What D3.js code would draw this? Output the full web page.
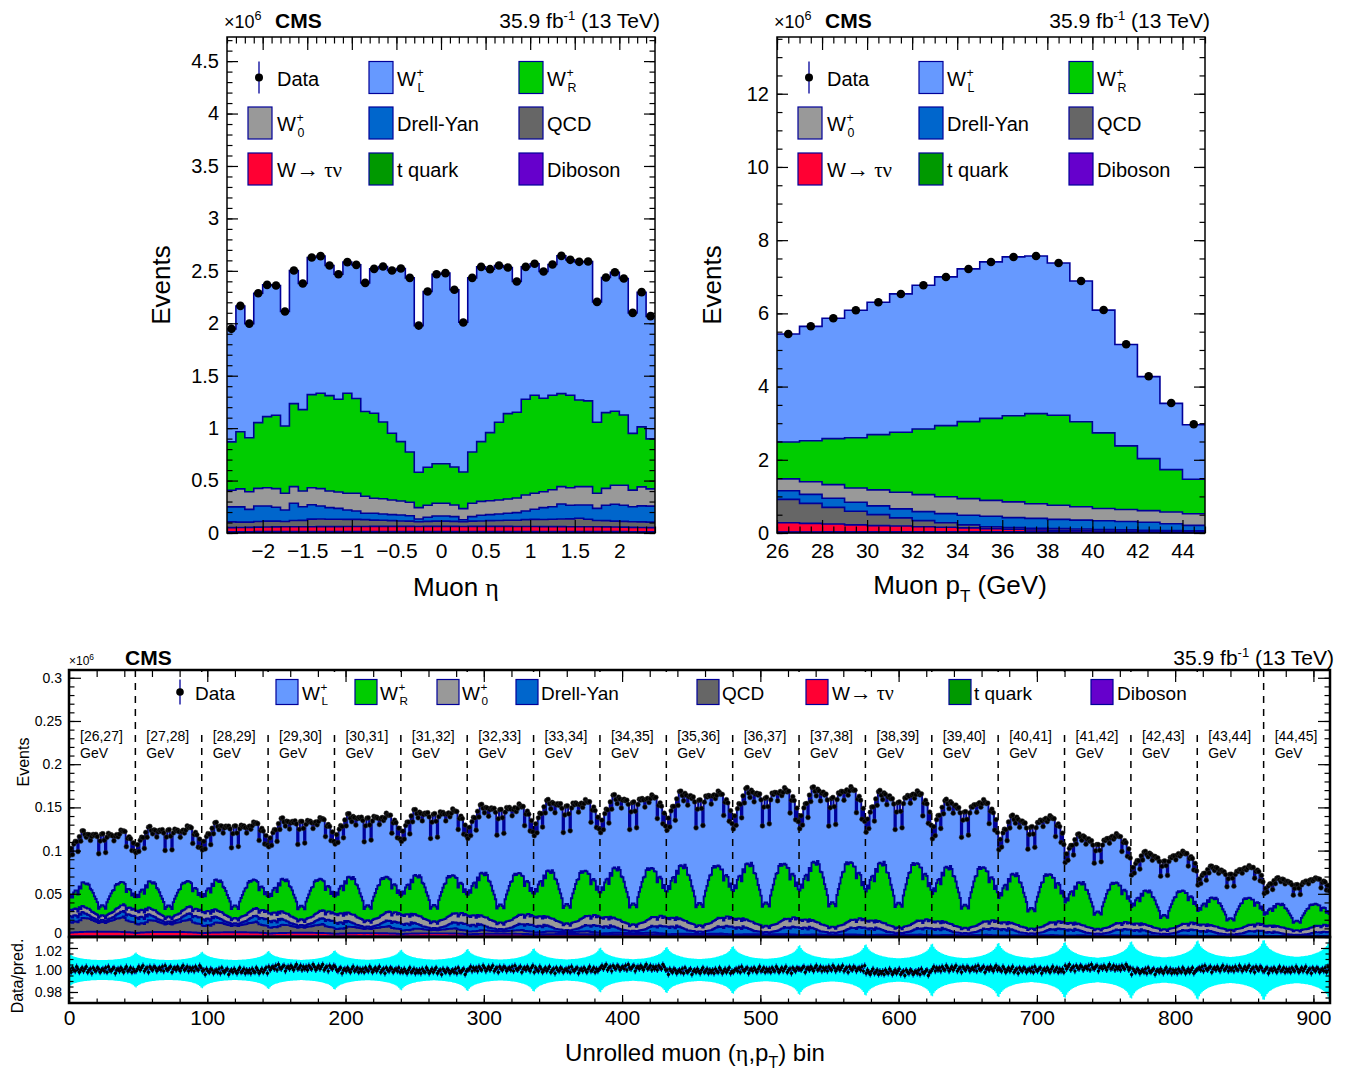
<!DOCTYPE html>
<html><head><meta charset="utf-8">
<script src="https://cdn.jsdelivr.net/npm/d3@7"></script>
<style>
body{margin:0;background:#fff;}
svg{display:block;}
text{font-family:"Liberation Sans",Arial,Helvetica,sans-serif;fill:#000;}
</style>
</head><body>
<svg id="c" width="1357" height="1074"></svg>
<script>
// ---------------- DATA (units of 10^6 events) ----------------
const etaRange = [-2.4, 2.4];
const etaNBins = 48;
const ptEdges = [26,27,28,29,30,31,32,33,34,35,36,37,38,39,40,41,42,43,44,45];
const xTicksEta = [-2,-1.5,-1,-0.5,0,0.5,1,1.5,2];
const yTicksEta = [0,0.5,1,1.5,2,2.5,3,3.5,4,4.5];
const xTicksPt = [26,28,30,32,34,36,38,40,42,44];
const yTicksPt = [0,2,4,6,8,10,12];
const xTicksUnrolled = [0,100,200,300,400,500,600,700,800,900];
const yTicksUnrolled = [0,0.05,0.1,0.15,0.2,0.25,0.3];
const yTicksRatio = [0.98,1.00,1.02];
const ptBinLabels = ["[26,27]","[27,28]","[28,29]","[29,30]","[30,31]","[31,32]","[32,33]","[33,34]","[34,35]","[35,36]","[36,37]","[37,38]","[38,39]","[39,40]","[40,41]","[41,42]","[42,43]","[43,44]","[44,45]"];

// Muon eta distributions (48 bins, -2.4 .. 2.4)
const etaData = [1.947,2.166,1.997,2.287,2.366,2.360,2.112,2.503,2.379,2.627,2.640,2.551,2.468,2.583,2.557,2.385,2.519,2.541,2.503,2.522,2.433,1.978,2.303,2.468,2.478,2.319,2.007,2.433,2.538,2.516,2.551,2.532,2.398,2.538,2.567,2.494,2.560,2.643,2.605,2.586,2.589,2.204,2.436,2.487,2.427,2.099,2.297,2.068];
const etaWL = [1.076,1.199,1.087,1.234,1.256,1.237,1.091,1.269,1.202,1.307,1.307,1.241,1.192,1.250,1.275,1.227,1.377,1.482,1.552,1.651,1.660,1.399,1.676,1.807,1.817,1.689,1.428,1.660,1.667,1.559,1.495,1.394,1.246,1.262,1.253,1.209,1.246,1.314,1.291,1.317,1.329,1.148,1.288,1.326,1.301,1.148,1.283,1.168];
const etaWR = [0.461,0.544,0.516,0.627,0.678,0.700,0.642,0.792,0.776,0.888,0.910,0.909,0.885,0.954,0.903,0.808,0.811,0.732,0.636,0.566,0.480,0.337,0.363,0.378,0.378,0.363,0.350,0.490,0.569,0.649,0.741,0.814,0.818,0.913,0.935,0.891,0.901,0.887,0.882,0.827,0.818,0.677,0.722,0.706,0.671,0.541,0.572,0.477];
const etaW0 = [0.159,0.172,0.168,0.168,0.174,0.178,0.160,0.159,0.150,0.162,0.165,0.159,0.156,0.160,0.169,0.162,0.143,0.146,0.140,0.133,0.128,0.108,0.114,0.121,0.121,0.111,0.105,0.127,0.133,0.133,0.134,0.136,0.140,0.153,0.153,0.152,0.162,0.165,0.168,0.175,0.175,0.144,0.162,0.181,0.191,0.159,0.181,0.165];
const etaDY = [0.143,0.145,0.121,0.148,0.145,0.132,0.110,0.164,0.131,0.138,0.125,0.111,0.104,0.089,0.080,0.060,0.065,0.060,0.057,0.057,0.052,0.027,0.039,0.049,0.049,0.045,0.020,0.043,0.054,0.057,0.062,0.067,0.072,0.082,0.096,0.113,0.120,0.144,0.129,0.127,0.136,0.116,0.146,0.161,0.153,0.142,0.153,0.152];
const etaQCD = [0.055,0.052,0.050,0.054,0.056,0.055,0.050,0.060,0.060,0.072,0.072,0.070,0.070,0.068,0.068,0.066,0.060,0.058,0.055,0.052,0.050,0.045,0.048,0.050,0.050,0.048,0.045,0.050,0.052,0.055,0.056,0.058,0.060,0.066,0.068,0.068,0.070,0.072,0.075,0.080,0.072,0.060,0.060,0.056,0.055,0.054,0.054,0.053];
const etaWtau = [0.040,0.041,0.042,0.043,0.044,0.045,0.046,0.046,0.047,0.047,0.048,0.048,0.048,0.049,0.049,0.049,0.050,0.050,0.050,0.050,0.050,0.049,0.050,0.050,0.050,0.050,0.049,0.050,0.050,0.050,0.050,0.050,0.049,0.049,0.049,0.048,0.048,0.048,0.047,0.047,0.046,0.046,0.045,0.044,0.043,0.042,0.041,0.040];
const etaTop = [0.005,0.005,0.005,0.006,0.006,0.006,0.006,0.006,0.006,0.006,0.006,0.006,0.006,0.006,0.006,0.006,0.006,0.006,0.006,0.006,0.006,0.006,0.006,0.006,0.006,0.006,0.006,0.006,0.006,0.006,0.006,0.006,0.006,0.006,0.006,0.006,0.006,0.006,0.006,0.006,0.006,0.006,0.006,0.006,0.006,0.005,0.005,0.005];
const etaDiboson = [0.006,0.006,0.007,0.007,0.007,0.007,0.007,0.007,0.007,0.007,0.007,0.007,0.007,0.007,0.007,0.007,0.007,0.007,0.007,0.007,0.007,0.007,0.007,0.007,0.007,0.007,0.007,0.007,0.007,0.007,0.007,0.007,0.007,0.007,0.007,0.007,0.007,0.007,0.007,0.007,0.007,0.007,0.007,0.007,0.007,0.007,0.006,0.006];

// Muon pT distributions (19 bins, 26 .. 45 GeV)
const ptData = [5.437,5.647,5.866,6.084,6.303,6.530,6.767,6.995,7.213,7.404,7.541,7.568,7.377,6.885,6.093,5.155,4.281,3.552,2.969];
const ptWL = [2.951,3.127,3.289,3.484,3.617,3.780,3.927,4.065,4.173,4.274,4.341,4.308,4.162,3.845,3.353,2.770,2.241,1.812,1.489];
const ptWR = [1.006,1.120,1.257,1.370,1.511,1.640,1.794,1.940,2.103,2.240,2.353,2.460,2.458,2.320,2.065,1.738,1.420,1.157,0.942];
const ptW0 = [0.324,0.343,0.372,0.392,0.437,0.454,0.463,0.462,0.454,0.434,0.428,0.400,0.384,0.365,0.338,0.328,0.320,0.319,0.319];
const ptDY = [0.236,0.247,0.248,0.245,0.238,0.246,0.246,0.248,0.264,0.286,0.273,0.273,0.253,0.245,0.237,0.226,0.215,0.187,0.149];
const ptQCD = [0.640,0.545,0.454,0.373,0.300,0.220,0.167,0.125,0.082,0.052,0.046,0.045,0.050,0.045,0.040,0.035,0.030,0.025,0.020];
const ptWtau = [0.250,0.235,0.216,0.190,0.170,0.160,0.140,0.125,0.107,0.088,0.070,0.052,0.040,0.035,0.030,0.028,0.025,0.022,0.020];
const ptTop = [0.012,0.013,0.014,0.014,0.015,0.015,0.015,0.015,0.015,0.015,0.015,0.014,0.014,0.013,0.012,0.011,0.010,0.009,0.008];
const ptDiboson = [0.016,0.016,0.017,0.017,0.017,0.017,0.017,0.017,0.017,0.017,0.017,0.016,0.016,0.015,0.014,0.013,0.012,0.011,0.010];

// Ratio panel: uncertainty band and data/pred deviations
const ratioUncCore = [0.0090,0.0090,0.0091,0.0092,0.0093,0.0094,0.0095,0.0096,0.0098,0.0100,0.0102,0.0104,0.0106,0.0108,0.0110,0.0112,0.0115,0.0118,0.0120];
const ratioUncPtScale = [0.6,0.7,0.75,0.8,0.85,0.9,0.95,1.0,1.05,1.1,1.15,1.2,1.25,1.3,1.35,1.4,1.45,1.5,1.5];
const ratioUncEta = [0.0100,0.0080,0.0066,0.0056,0.0048,0.0042,0.0037,0.0032,0.0028,0.0024,0.0021,0.0018,0.0015,0.0013,0.0011,0.0009,0.0007,0.0006,0.0005,0.0004,0.0003,0.0002,0.0001,0.0000,0.0000,0.0001,0.0002,0.0003,0.0004,0.0005,0.0006,0.0007,0.0009,0.0011,0.0013,0.0015,0.0018,0.0021,0.0024,0.0028,0.0032,0.0037,0.0042,0.0048,0.0056,0.0066,0.0080,0.0100];
const ratioDevEta = [0.001,-0.002,0.002,0.000,-0.001,0.003,0.001,-0.002,0.000,0.002,-0.001,0.001,0.003,-0.002,0.000,0.001,-0.003,0.002,0.000,-0.001,0.002,0.001,-0.002,0.000,0.001,-0.001,0.002,-0.002,0.003,0.000,-0.001,0.001,0.002,-0.003,0.000,0.001,-0.001,0.002,0.000,-0.002,0.001,0.003,-0.001,0.000,0.002,-0.002,0.001,-0.001];
const ratioDevPt = [0.000,0.001,-0.001,0.002,0.000,-0.001,0.001,0.000,0.002,-0.001,0.000,0.001,-0.002,0.001,0.000,0.002,-0.001,0.001,0.000];

// ---------------- STYLE ----------------
const NAVY = "#000099";
const colors = {diboson:"#6600CC", top:"#009900", wtau:"#FF0033", qcd:"#666666", dy:"#0066CC", w0:"#999999", wr:"#00CC00", wl:"#6699FF"};
const order = ["diboson","top","wtau","qcd","dy","w0","wr","wl"];

const svg = d3.select("#c");

function cumulate(comps){
  const n = comps.wl.length;
  let acc = new Array(n).fill(0);
  return order.map(k => { acc = acc.map((a,i)=>a+comps[k][i]); return {key:k, top:acc.slice()}; });
}
function stepPoints(edges, vals){
  const pts=[]; vals.forEach((v,i)=>{pts.push([edges[i],v]); pts.push([edges[i+1],v]);}); return pts;
}
function drawStack(g, x, y, edges, layers, lw){
  const area = d3.area().x(d=>x(d[0])).y0(y(0)).y1(d=>y(d[1]));
  const line = d3.line().x(d=>x(d[0])).y(d=>y(d[1]));
  for(let i=layers.length-1;i>=0;i--){
    g.append("path").attr("d", area(stepPoints(edges, layers[i].top))).attr("fill", colors[layers[i].key]);
  }
  layers.forEach(L=>{
    g.append("path").attr("d", line(stepPoints(edges, L.top))).attr("fill","none")
      .attr("stroke",NAVY).attr("stroke-width",lw).attr("stroke-linejoin","miter");
  });
}
function axisG(g, axis, tx, ty){
  const a = g.append("g").attr("transform",`translate(${tx},${ty})`).call(axis);
  a.select(".domain").remove();
  a.attr("font-family",null).attr("font-size",null);
  a.selectAll("line").attr("stroke","#000").attr("stroke-width",1.2);
  return a;
}
function frameTicks(g, x, y, o){
  const [x0,x1]=x.range(); const [yb,yt]=y.range();
  axisG(g, d3.axisBottom(x).tickValues(o.xMin).tickSize(-o.xMinLen).tickFormat(""), 0, yb);
  axisG(g, d3.axisTop(x).tickValues(o.xMin).tickSize(-o.xMinLen).tickFormat(""), 0, yt);
  axisG(g, d3.axisTop(x).tickValues(o.xMaj).tickSize(-o.xMajLen).tickFormat(""), 0, yt);
  const bx = axisG(g, d3.axisBottom(x).tickValues(o.xMaj).tickSize(-o.xMajLen).tickPadding(o.xPad).tickFormat(o.xLabels?o.xFmt:""), 0, yb);
  bx.selectAll("text").attr("font-size",o.fsX).attr("fill","#000");
  axisG(g, d3.axisLeft(y).tickValues(o.yMin).tickSize(-o.yMinLen).tickFormat(""), x0, 0);
  axisG(g, d3.axisRight(y).tickValues(o.yMin).tickSize(-o.yMinLen).tickFormat(""), x1, 0);
  axisG(g, d3.axisRight(y).tickValues(o.yMaj).tickSize(-o.yMajLen).tickFormat(""), x1, 0);
  const ly = axisG(g, d3.axisLeft(y).tickValues(o.yMaj).tickSize(-o.yMajLen).tickPadding(o.yPad).tickFormat(o.yFmt), x0, 0);
  ly.selectAll("text").attr("font-size",o.fsY).attr("fill","#000");
  return ly;
}
function wLabel(g, x, y, fs, sub){
  const t = g.append("text").attr("x",x).attr("y",y).attr("font-size",fs).text("W");
  const w = t.node().getComputedTextLength();
  g.append("text").attr("x",x+w+0.5).attr("y",y-0.45*fs).attr("font-size",fs*0.62).text("+");
  g.append("text").attr("x",x+w+1.5).attr("y",y+0.30*fs).attr("font-size",fs*0.62).text(sub);
}
function tauLabel(g, x, y, fs){
  const t = g.append("text").attr("x",x).attr("y",y).attr("font-size",fs);
  t.append("tspan").text("W");
  t.append("tspan").attr("font-size",fs*1.15).text("\u2192");
  t.append("tspan").attr("font-family","'Liberation Serif','Times New Roman',serif").attr("font-size",fs*1.05).text(" \u03C4\u03BD");
}
function legendEntry(g, key, bx, tx, cy, fs, bw, bh){
  if(key==="data"){
    g.append("line").attr("x1",bx).attr("x2",bx).attr("y1",cy-bh/2).attr("y2",cy+bh/2).attr("stroke",NAVY).attr("stroke-width",1.3);
    g.append("circle").attr("cx",bx).attr("cy",cy).attr("r",fs*0.2).attr("fill","#000");
    g.append("text").attr("x",tx).attr("y",cy+fs*0.4).attr("font-size",fs).text("Data");
    return;
  }
  g.append("rect").attr("x",bx).attr("y",cy-bh/2).attr("width",bw).attr("height",bh)
    .attr("fill",colors[key]).attr("stroke",NAVY).attr("stroke-width",1.2);
  const by = cy+fs*0.4;
  if(key==="wl") wLabel(g,tx,by,fs,"L");
  else if(key==="wr") wLabel(g,tx,by,fs,"R");
  else if(key==="w0") wLabel(g,tx,by,fs,"0");
  else if(key==="wtau") tauLabel(g,tx,by,fs);
  else {
    const names={dy:"Drell-Yan",qcd:"QCD",top:"t quark",diboson:"Diboson"};
    g.append("text").attr("x",tx).attr("y",by).attr("font-size",fs).text(names[key]);
  }
}
function header(g, xLeft, xCMS, xRight, yb, fsSmall, fsBig){
  const t = g.append("text").attr("x",xLeft).attr("y",yb).attr("font-size",fsSmall);
  t.append("tspan").text("\u00D710");
  t.append("tspan").attr("dy",-fsSmall*0.45).attr("font-size",fsSmall*0.7).text("6");
  g.append("text").attr("x",xCMS).attr("y",yb).attr("font-size",fsBig).attr("font-weight","bold").text("CMS");
  const l = g.append("text").attr("x",xRight).attr("y",yb).attr("font-size",fsBig).attr("text-anchor","end");
  l.append("tspan").text("35.9 fb");
  l.append("tspan").attr("dy",-fsBig*0.4).attr("font-size",fsBig*0.62).text("-1");
  l.append("tspan").attr("dy",fsBig*0.4).text(" (13 TeV)");
}
function vLabel(g, x, y, fs, txt){
  g.append("text").attr("transform",`translate(${x},${y}) rotate(-90)`).attr("text-anchor","middle").attr("font-size",fs).text(txt);
}

// ---------------- PANEL A: Muon eta ----------------
{
  const g = svg.append("g");
  const x = d3.scaleLinear().domain(etaRange).range([227,655]);
  const y = d3.scaleLinear().domain([0,4.73]).range([533,37]);
  const w = (etaRange[1]-etaRange[0])/etaNBins;
  const edges = d3.range(etaNBins+1).map(i=>etaRange[0]+i*w);
  const layers = cumulate({diboson:etaDiboson, top:etaTop, wtau:etaWtau, qcd:etaQCD, dy:etaDY, w0:etaW0, wr:etaWR, wl:etaWL});
  drawStack(g, x, y, edges, layers, 1.6);
  g.selectAll(null).data(etaData).join("circle")
    .attr("cx",(d,i)=>x((edges[i]+edges[i+1])/2)).attr("cy",d=>y(d)).attr("r",4.3).attr("fill","#000");
  const cols=[[259,248,277],[369,369,397],[519,519,547]];
  const rows=[77.5,123,169];
  const items=[["data","wl","wr"],["w0","dy","qcd"],["wtau","top","diboson"]];
  items.forEach((r,ri)=>r.forEach((k,ci)=>{
    legendEntry(g,k,k==="data"?cols[ci][0]:cols[ci][1],cols[ci][2],rows[ri],20,24,32);
  }));
  frameTicks(g, x, y, {xMaj:xTicksEta, xMin:x.ticks(48), yMaj:yTicksEta, yMin:y.ticks(47),
    xMajLen:13, xMinLen:6.5, yMajLen:11, yMinLen:5.5, xPad:10, yPad:8, fsX:21, fsY:20,
    xLabels:true, xFmt:d3.format(""), yFmt:d3.format("")});
  g.append("rect").attr("x",227).attr("y",37).attr("width",428).attr("height",496).attr("fill","none").attr("stroke","#000").attr("stroke-width",1.5);
  header(g, 224, 275, 660, 28, 18, 21);
  vLabel(g, 170, 285, 26, "Events");
  const xt = g.append("text").attr("x",456).attr("y",596).attr("text-anchor","middle").attr("font-size",26);
  xt.append("tspan").text("Muon ");
  xt.append("tspan").attr("font-family","'Liberation Serif','Times New Roman',serif").text("\u03B7");
}

// ---------------- PANEL B: Muon pT ----------------
{
  const g = svg.append("g");
  const x = d3.scaleLinear().domain([ptEdges[0], ptEdges[ptEdges.length-1]]).range([777,1205]);
  const y = d3.scaleLinear().domain([0,13.55]).range([533,37]);
  const layers = cumulate({diboson:ptDiboson, top:ptTop, wtau:ptWtau, qcd:ptQCD, dy:ptDY, w0:ptW0, wr:ptWR, wl:ptWL});
  drawStack(g, x, y, ptEdges, layers, 1.6);
  g.selectAll(null).data(ptData).join("circle")
    .attr("cx",(d,i)=>x((ptEdges[i]+ptEdges[i+1])/2)).attr("cy",d=>y(d)).attr("r",4.3).attr("fill","#000");
  const cols=[[809,798,827],[919,919,947],[1069,1069,1097]];
  const rows=[77.5,123,169];
  const items=[["data","wl","wr"],["w0","dy","qcd"],["wtau","top","diboson"]];
  items.forEach((r,ri)=>r.forEach((k,ci)=>{
    legendEntry(g,k,k==="data"?cols[ci][0]:cols[ci][1],cols[ci][2],rows[ri],20,24,32);
  }));
  frameTicks(g, x, y, {xMaj:xTicksPt, xMin:x.ticks(38), yMaj:yTicksPt, yMin:y.ticks(27),
    xMajLen:13, xMinLen:6.5, yMajLen:11, yMinLen:5.5, xPad:10, yPad:8, fsX:21, fsY:20,
    xLabels:true, xFmt:d3.format(""), yFmt:d3.format("")});
  g.append("rect").attr("x",777).attr("y",37).attr("width",428).attr("height",496).attr("fill","none").attr("stroke","#000").attr("stroke-width",1.5);
  header(g, 774, 825, 1210, 28, 18, 21);
  vLabel(g, 721, 285, 26, "Events");
  const xt = g.append("text").attr("x",960).attr("y",594).attr("text-anchor","middle").attr("font-size",26);
  xt.append("tspan").text("Muon p");
  xt.append("tspan").attr("dy",8).attr("font-size",17).text("T");
  xt.append("tspan").attr("dy",-8).text(" (GeV)");
}

// ---------------- PANEL C: unrolled ----------------
{
  const g = svg.append("g");
  const nEta = etaNBins, nPt = ptData.length, nBins = nEta*nPt;
  const x = d3.scaleLinear().domain([0,nBins]).range([69,1330]);
  const y = d3.scaleLinear().domain([0,0.309]).range([937,670]);
  const yr = d3.scaleLinear().domain([0.97,1.03]).range([1003,937]);
  const edges = d3.range(nBins+1);
  const etaSets = {diboson:etaDiboson, top:etaTop, wtau:etaWtau, qcd:etaQCD, dy:etaDY, w0:etaW0, wr:etaWR, wl:etaWL};
  const ptSets = {diboson:ptDiboson, top:ptTop, wtau:ptWtau, qcd:ptQCD, dy:ptDY, w0:ptW0, wr:ptWR, wl:ptWL};
  const comps = {};
  order.forEach(k=>{
    const s = d3.sum(etaSets[k]);
    const arr=[];
    for(let p=0;p<nPt;p++) for(let e=0;e<nEta;e++) arr.push(ptSets[k][p]*etaSets[k][e]/s);
    comps[k]=arr;
  });
  const layers = cumulate(comps);
  const pred = layers[layers.length-1].top;
  const ratio=[], unc=[];
  for(let p=0;p<nPt;p++) for(let e=0;e<nEta;e++){
    ratio.push(1 + ratioDevEta[(e+7*p)%nEta] + ratioDevPt[p]);
    unc.push(ratioUncCore[p] + ratioUncEta[e]*ratioUncPtScale[p]);
  }
  const defs = svg.append("defs");
  defs.append("clipPath").attr("id","cm").append("rect").attr("x",69).attr("y",670).attr("width",1261).attr("height",267);
  defs.append("clipPath").attr("id","cr").append("rect").attr("x",69).attr("y",937).attr("width",1261).attr("height",66);
  const gm = g.append("g").attr("clip-path","url(#cm)");
  drawStack(gm, x, y, edges, layers, 1.9);
  gm.selectAll(null).data(d3.range(1,nPt)).join("line")
    .attr("x1",d=>x(d*nEta)).attr("x2",d=>x(d*nEta)).attr("y1",670).attr("y2",937)
    .attr("stroke","#000").attr("stroke-width",1.5).attr("stroke-dasharray","7,6");
  gm.selectAll(null).data(pred).join("circle")
    .attr("cx",(d,i)=>x(i+0.5)).attr("cy",(d,i)=>y(d*ratio[i])).attr("r",2.4)
    .attr("fill","#000").attr("stroke","#333").attr("stroke-width",0.5);
  g.append("rect").attr("x",150).attr("y",672).attr("width",1095).attr("height",60).attr("fill","#fff");
  const leg=[["data",180,195],["wl",276,302],["wr",355,380],["w0",437,462],["dy",516,541],["qcd",697,722],["wtau",806,832],["top",949,974],["diboson",1091,1117]];
  leg.forEach(([k,bx,tx])=>legendEntry(g,k,bx,tx,692,19,22,25));
  ptBinLabels.forEach((lab,p)=>{
    g.append("text").attr("x",x(p*nEta)+11).attr("y",741).attr("font-size",14).attr("fill","#222").text(lab);
    g.append("text").attr("x",x(p*nEta)+11).attr("y",758).attr("font-size",14).attr("fill","#222").text("GeV");
  });
  const gr = g.append("g").attr("clip-path","url(#cr)");
  const bandArea = d3.area().x(d=>x(d[0])).y0(d=>yr(1-d[1])).y1(d=>yr(1+d[1]));
  gr.append("path").attr("d", bandArea(stepPoints(edges, unc))).attr("fill","#00FFFF");
  gr.selectAll(null).data(ratio).join("line")
    .attr("x1",(d,i)=>x(i+0.5)).attr("x2",(d,i)=>x(i+0.5))
    .attr("y1",d=>yr(d-0.0028)).attr("y2",d=>yr(d+0.0028)).attr("stroke",NAVY).attr("stroke-width",1.1);
  gr.selectAll(null).data(ratio).join("circle")
    .attr("cx",(d,i)=>x(i+0.5)).attr("cy",d=>yr(d)).attr("r",1.7).attr("fill","#000");
  const lyMain = frameTicks(g, x, y, {xMaj:xTicksUnrolled, xMin:x.ticks(45), yMaj:yTicksUnrolled, yMin:y.ticks(30),
    xMajLen:12, xMinLen:7, yMajLen:12, yMinLen:5.5, xPad:8, yPad:7, fsX:20, fsY:14,
    xLabels:false, xFmt:d3.format(""), yFmt:d3.format("")});
  lyMain.selectAll("text").filter(d=>d===0).attr("dy","0.05em");
  const lyR = frameTicks(g, x, yr, {xMaj:xTicksUnrolled, xMin:x.ticks(45), yMaj:yTicksRatio, yMin:d3.range(0.975,1.03,0.005),
    xMajLen:8, xMinLen:4.5, yMajLen:9, yMinLen:4.5, xPad:7, yPad:7, fsX:21, fsY:14,
    xLabels:true, xFmt:d3.format(""), yFmt:d3.format(".2f")});
  lyR.selectAll("text").filter(d=>d===1.02).attr("dy","0.5em");
  g.append("rect").attr("x",69).attr("y",670).attr("width",1261).attr("height",267).attr("fill","none").attr("stroke","#000").attr("stroke-width",2.5);
  g.append("rect").attr("x",69).attr("y",937).attr("width",1261).attr("height",66).attr("fill","none").attr("stroke","#000").attr("stroke-width",2.5);
  header(g, 69, 125, 1334, 665, 12, 21);
  vLabel(g, 29, 762, 16, "Events");
  vLabel(g, 23, 976, 16, "Data/pred.");
  const xt = g.append("text").attr("x",695).attr("y",1061).attr("text-anchor","middle").attr("font-size",24);
  xt.append("tspan").text("Unrolled muon (");
  xt.append("tspan").attr("font-family","'Liberation Serif','Times New Roman',serif").text("\u03B7");
  xt.append("tspan").text(",p");
  xt.append("tspan").attr("dy",7).attr("font-size",16).text("T");
  xt.append("tspan").attr("dy",-7).text(") bin");
}
</script>
</body></html>
